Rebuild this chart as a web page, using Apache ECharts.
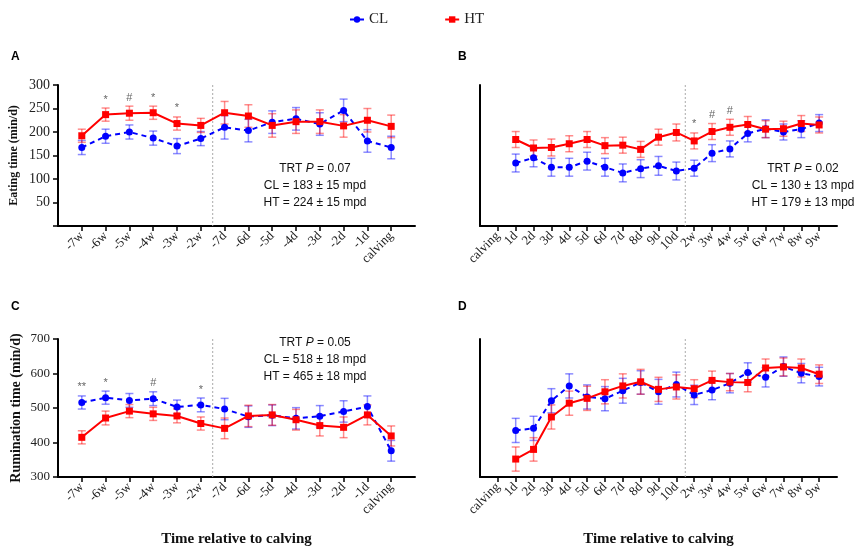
<!DOCTYPE html>
<html lang="en">
<head>
<meta charset="UTF-8">
<title>Eating and rumination time relative to calving</title>
<script src="https://cdn.jsdelivr.net/npm/echarts@6/dist/echarts.min.js"></script>
</head>
<body style="margin:0">
<div id="main" style="width: 856px;height:548px;"></div>
<script>
  const preCats = ['-7w','-6w','-5w','-4w','-3w','-2w','-7d','-6d','-5d','-4d','-3d','-2d','-1d','calving'];
  const postCats = ['calving','1d','2d','3d','4d','5d','6d','7d','8d','9d','10d','2w','3w','4w','5w','6w','7w','8w','9w'];

  // A - eating time before calving
  const eatPreCL   = [167,191,200,187,170,186,210,203,221,228,217,246,181,167];
  const eatPreCLse = [15,15,15,15,16,15,25,24,24,24,24,24,24,24];
  const eatPreHT   = [192,237,240,241,218,214,241,234,214,222,222,213,225,212];
  const eatPreHTse = [14,14,15,14,14,15,24,24,25,25,25,24,25,24];
  const eatPreNote = ['','*','#','*','*','','','','','','','','',''];

  // B - eating time after calving
  const eatPostCL   = [null,134,145,125,125,138,125,113,122,128,117,123,155,164,197,207,200,206,219];
  const eatPostCLse = [null,19,19,19,19,19,19,19,19,20,19,17,18,17,18,19,17,18,18];
  const eatPostHT   = [null,184,166,167,175,184,171,172,163,189,199,181,201,210,216,206,207,218,215];
  const eatPostHTse = [null,17,17,18,17,17,17,17,17,17,18,17,17,17,17,18,16,17,17];
  const eatPostNote = ['','','','','','','','','','','','*','#','#','','','','',''];

  // C - rumination time before calving
  const rumPreCL   = [516,530,522,527,503,509,497,475,479,470,476,490,504,376];
  const rumPreCLse = [19,19,20,20,20,20,31,31,30,31,31,31,31,30];
  const rumPreHT   = [415,471,491,483,477,455,441,477,480,466,449,444,480,419];
  const rumPreHTse = [19,20,19,19,20,19,30,31,30,30,30,30,29,29];
  const rumPreNote = ['**','*','','#','','*','','','','','','','',''];

  // D - rumination time after calving
  const rumPostCL   = [null,435,441,521,564,532,527,550,574,547,568,538,552,572,603,589,620,601,591];
  const rumPostCLse = [null,35,35,35,35,35,35,36,34,36,36,28,28,28,28,28,28,28,27];
  const rumPostHT   = [null,352,380,474,514,528,547,564,576,554,561,556,580,575,574,616,619,616,598];
  const rumPostHTse = [null,35,34,35,35,35,35,35,36,35,35,26,27,25,27,26,26,26,27];
  const rumPostNote = postCats.map(() => '');

  const blue = '#0000ff';
  const red = '#ff0000';
  const serif = 'Liberation Serif';
  const sans = 'Liberation Sans';

  const myChart = echarts.init(document.getElementById('main'));

  // x axis: blank slot on each side so the first / last point sit one step in
  function xAxisFor(gi, cats, withName) {
    const data = [''].concat(cats, [' ']);
    const n = data.length;
    return {
      type: 'category', gridIndex: gi, data: data, boundaryGap: false,
      axisLine: {lineStyle: {color: '#000', width: 2}},
      axisTick: {length: 5, lineStyle: {color: '#000', width: 1.5},
        interval: (i) => i > 0 && i < n - 1},
      axisLabel: {interval: 0, rotate: 45, fontFamily: serif, fontSize: 13, color: '#222', margin: 8},
      name: withName ? 'Time relative to calving' : '',
      nameLocation: 'middle', nameGap: 55,
      nameTextStyle: {fontFamily: serif, fontSize: 15, fontWeight: 'bold', color: '#111'}
    };
  }

  function lineSeries(name, gi, vals, color, dashed) {
    return {
      name: name, type: 'line', xAxisIndex: gi, yAxisIndex: gi, z: 4,
      data: vals.map((v, i) => [i + 1, v]),
      symbol: dashed ? 'circle' : 'rect', symbolSize: 7,
      itemStyle: {color: color},
      lineStyle: {color: color, width: 2, type: dashed ? [5, 4] : 'solid'}
    };
  }

  function errSeries(name, gi, vals, se, color) {
    const data = [];
    vals.forEach((v, i) => { if (v != null) data.push([i + 1, v - se[i], v + se[i]]); });
    return {
      name: name, type: 'custom', xAxisIndex: gi, yAxisIndex: gi, z: 2,
      encode: {x: 0, y: [1, 2]},
      data: data,
      renderItem: function (params, api) {
        const x = api.value(0);
        const lo = api.coord([x, api.value(1)]);
        const hi = api.coord([x, api.value(2)]);
        const w = 4;
        const st = {stroke: color, lineWidth: 1.5};
        return {type: 'group', children: [
          {type: 'line', shape: {x1: lo[0], y1: lo[1], x2: hi[0], y2: hi[1]}, style: st},
          {type: 'line', shape: {x1: lo[0] - w, y1: lo[1], x2: lo[0] + w, y2: lo[1]}, style: st},
          {type: 'line', shape: {x1: hi[0] - w, y1: hi[1], x2: hi[0] + w, y2: hi[1]}, style: st}
        ]};
      }
    };
  }

  function noteSeries(gi, notes, cl, clse, ht, htse) {
    const data = [];
    notes.forEach((t, i) => {
      if (t) data.push([i + 1, Math.max(cl[i] + clse[i], ht[i] + htse[i]), t]);
    });
    return {
      type: 'custom', xAxisIndex: gi, yAxisIndex: gi, z: 5, data: data,
      encode: {x: 0, y: 1},
      renderItem: function (params, api) {
        const p = api.coord([api.value(0), api.value(1)]);
        return {type: 'text', x: p[0], y: p[1] - 3,
          style: {text: data[params.dataIndex][2], fill: '#666', fontFamily: sans, fontSize: 11,
            align: 'center', verticalAlign: 'bottom'}};
      }
    };
  }

  // dotted separator between the weekly and the daily part
  function sepSeries(gi, a, b) {
    return {
      type: 'custom', xAxisIndex: gi, yAxisIndex: gi, z: 1, data: [[a, b]],
      encode: {x: [0, 1]},
      renderItem: function (params, api) {
        const cs = params.coordSys;
        const x = (api.coord([api.value(0), 0])[0] + api.coord([api.value(1), 0])[0]) / 2;
        return {type: 'line', shape: {x1: x, y1: cs.y, x2: x, y2: cs.y + cs.height},
          style: {stroke: '#aaa', lineWidth: 1, lineDash: [2, 2]}};
      }
    };
  }

  function statText(x, y, p, cl, ht) {
    const base = {fontFamily: sans, fontSize: 12, fill: '#111', align: 'center', verticalAlign: 'middle'};
    return [
      {type: 'text', x: x, y: y, style: Object.assign({}, base,
        {text: 'TRT {i|P} = ' + p, rich: {i: {fontFamily: sans, fontSize: 12, fontStyle: 'italic'}}})},
      {type: 'text', x: x, y: y + 17, style: Object.assign({}, base, {text: 'CL = ' + cl + ' mpd'})},
      {type: 'text', x: x, y: y + 34, style: Object.assign({}, base, {text: 'HT = ' + ht + ' mpd'})}
    ];
  }

  function panelLetter(t, x, y) {
    return {type: 'text', x: x, y: y, style: {text: t, fontFamily: sans, fontSize: 12, fontWeight: 'bold', fill: '#000'}};
  }

  const yLine = {lineStyle: {color: '#000', width: 2}};

  const option = {
    animation: false,
    legend: {
      data: ['CL', 'HT'], top: 7, left: 344, itemWidth: 14, itemHeight: 8, itemGap: 56,
      textStyle: {fontFamily: serif, fontSize: 15, color: '#222'}
    },
    grid: [
      {left: 58, top: 85, width: 357, height: 141},
      {left: 480, top: 85, width: 357, height: 141},
      {left: 58, top: 339, width: 357, height: 141},
      {left: 480, top: 339, width: 357, height: 141}
    ],
    xAxis: [
      xAxisFor(0, preCats, false),
      xAxisFor(1, postCats, false),
      xAxisFor(2, preCats, true),
      xAxisFor(3, postCats, true)
    ],
    yAxis: [
      {type: 'value', gridIndex: 0, min: 0, max: 300, interval: 50, splitLine: {show: false},
        axisLine: Object.assign({show: true}, yLine),
        axisTick: {show: true, length: 5, lineStyle: {color: '#000', width: 1.5}},
        axisLabel: {fontFamily: serif, fontSize: 14, color: '#222', formatter: (v) => v === 0 ? '' : v},
        name: 'Eating time (min/d)', nameLocation: 'middle', nameGap: 38,
        nameTextStyle: {fontFamily: serif, fontSize: 12, fontWeight: 'bold', color: '#111'}},
      {type: 'value', gridIndex: 1, min: 0, max: 300, interval: 50, splitLine: {show: false},
        axisLine: Object.assign({show: true}, yLine), axisTick: {show: false}, axisLabel: {show: false}},
      {type: 'value', gridIndex: 2, min: 300, max: 700, interval: 100, splitLine: {show: false},
        axisLine: Object.assign({show: true}, yLine),
        axisTick: {show: true, length: 5, lineStyle: {color: '#000', width: 1.5}},
        axisLabel: {fontFamily: serif, fontSize: 13, color: '#222'},
        name: 'Rumination time (min/d)', nameLocation: 'middle', nameGap: 35,
        nameTextStyle: {fontFamily: serif, fontSize: 14, fontWeight: 'bold', color: '#111'}},
      {type: 'value', gridIndex: 3, min: 300, max: 700, interval: 100, splitLine: {show: false},
        axisLine: Object.assign({show: true}, yLine), axisTick: {show: false}, axisLabel: {show: false}}
    ],
    graphic: [
      panelLetter('A', 11, 51), panelLetter('B', 458, 51),
      panelLetter('C', 11, 301), panelLetter('D', 458, 301)
    ].concat(
      statText(315, 169, '0.07', '183 ± 15', '224 ± 15'),
      statText(803, 169, '0.02', '130 ± 13', '179 ± 13'),
      statText(315, 343, '0.05', '518 ± 18', '465 ± 18')
    ),
    series: [
      sepSeries(0, 6, 7), sepSeries(1, 11, 12), sepSeries(2, 6, 7), sepSeries(3, 11, 12),

      errSeries('CL err A', 0, eatPreCL, eatPreCLse, 'rgba(0,0,255,0.45)'),
      errSeries('HT err A', 0, eatPreHT, eatPreHTse, 'rgba(255,0,0,0.45)'),
      lineSeries('CL', 0, eatPreCL, blue, true),
      lineSeries('HT', 0, eatPreHT, red, false),
      noteSeries(0, eatPreNote, eatPreCL, eatPreCLse, eatPreHT, eatPreHTse),

      errSeries('CL err B', 1, eatPostCL, eatPostCLse, 'rgba(0,0,255,0.45)'),
      errSeries('HT err B', 1, eatPostHT, eatPostHTse, 'rgba(255,0,0,0.45)'),
      lineSeries('CL', 1, eatPostCL, blue, true),
      lineSeries('HT', 1, eatPostHT, red, false),
      noteSeries(1, eatPostNote, eatPostCL, eatPostCLse, eatPostHT, eatPostHTse),

      errSeries('CL err C', 2, rumPreCL, rumPreCLse, 'rgba(0,0,255,0.45)'),
      errSeries('HT err C', 2, rumPreHT, rumPreHTse, 'rgba(255,0,0,0.45)'),
      lineSeries('CL', 2, rumPreCL, blue, true),
      lineSeries('HT', 2, rumPreHT, red, false),
      noteSeries(2, rumPreNote, rumPreCL, rumPreCLse, rumPreHT, rumPreHTse),

      errSeries('CL err D', 3, rumPostCL, rumPostCLse, 'rgba(0,0,255,0.45)'),
      errSeries('HT err D', 3, rumPostHT, rumPostHTse, 'rgba(255,0,0,0.45)'),
      lineSeries('CL', 3, rumPostCL, blue, true),
      lineSeries('HT', 3, rumPostHT, red, false),
      noteSeries(3, rumPostNote, rumPostCL, rumPostCLse, rumPostHT, rumPostHTse)
    ]
  };
  myChart.setOption(option);
</script>
</body>
</html>
